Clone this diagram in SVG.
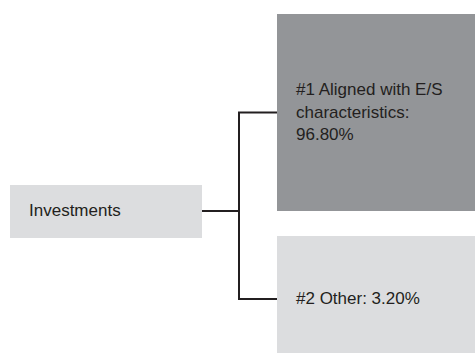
<svg xmlns="http://www.w3.org/2000/svg" width="475" height="354" viewBox="0 0 475 354">
  <style>
    .lbl { font-family: "Liberation Sans", Arial, sans-serif; font-size: 17px; fill: #231f20; }
    .light { fill: #dcdddf; }
    .dark { fill: #939598; }
    .conn { fill: none; stroke: #231f20; stroke-width: 2; }
  </style>
  <rect width="475" height="354" fill="#ffffff"/>
  <g id="connectors">
    <path class="conn" d="M202,211 H239"/>
    <path class="conn" d="M277,112.5 H239 V299 H277"/>
  </g>
  <g id="investments">
    <rect class="light" x="10" y="185" width="192" height="53"/>
    <text class="lbl" x="29" y="216">Investments</text>
  </g>
  <g id="aligned">
    <rect class="dark" x="277" y="14" width="198" height="197"/>
    <text class="lbl" x="296" y="95">#1 Aligned with E/S</text>
    <text class="lbl" x="296" y="118">characteristics:</text>
    <text class="lbl" x="296" y="140">96.80%</text>
  </g>
  <g id="other">
    <rect class="light" x="277" y="236" width="198" height="117"/>
    <text class="lbl" x="296" y="304">#2 Other: 3.20%</text>
  </g>
</svg>
